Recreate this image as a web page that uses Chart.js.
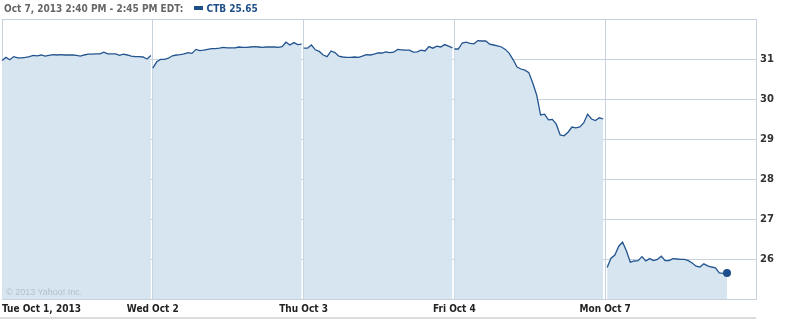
<!DOCTYPE html>
<html lang="en">
<head>
    <meta charset="UTF-8">
    <title>CTB intraday</title>
    <style>
        body {
            margin: 0;
            background: #fff;
            font-family: 'DejaVu Sans', Verdana, sans-serif;
        }

        #wrap {
            position: relative;
            width: 793px;
            height: 320px;
            overflow: hidden;
        }

        #header {
            position: absolute;
            left: 4px;
            top: 3px;
            font-family: 'DejaVu Sans Condensed', 'DejaVu Sans', sans-serif;
            font-size: 10px;
            font-weight: bold;
            color: #666;
            white-space: nowrap;
        }

        #header .sym {
            color: #1f4f8a;
            margin-left: 7px;
        }

        #header .swatch {
            display: inline-block;
            width: 9px;
            height: 4px;
            background: #1f4f8a;
            vertical-align: middle;
            margin-right: 4px;
            position: relative;
            top: -1px;
        }

        #copy {
            position: absolute;
            left: 6px;
            top: 287px;
            font-family: 'Liberation Sans Narrow', 'Liberation Sans', sans-serif;
            font-size: 9px;
            color: #b4c0cc;
        }

        #bottom-line {
            position: absolute;
            left: 0;
            top: 317px;
            width: 756px;
            height: 2px;
            background: #dcdcdc;
        }

        canvas {
            position: absolute;
            left: -2px;
            top: 0;
        }
    </style>
    <script src="https://cdn.jsdelivr.net/npm/chart.js"></script>
</head>
<body>
<div id="wrap">
    <canvas id="priceChart" width="795" height="320"></canvas>
    <div id="header">Oct 7, 2013 2:40 PM - 2:45 PM EDT: <span class="sym"><span class="swatch"></span>CTB 25.65</span></div>
    <div id="copy">&copy; 2013 Yahoo! Inc.</div>
    <div id="bottom-line"></div>
</div>

<script>
    // day labels under the grid lines
    const dayLabels = ['Tue Oct 1, 2013', 'Wed Oct 2', 'Thu Oct 3', 'Fri Oct 4', 'Mon Oct 7', ''];
    const yTicks = [26, 27, 28, 29, 30, 31];

    // prices sampled through each session (about every 10 minutes)
    const tuePrices = [30.96, 31.04, 30.98, 31.06, 31.03, 31.03, 31.04, 31.06, 31.09, 31.08,
        31.10, 31.07, 31.09, 31.11, 31.10, 31.11, 31.10, 31.10, 31.10, 31.09,
        31.07, 31.10, 31.12, 31.12, 31.13, 31.13, 31.17, 31.13, 31.13, 31.13,
        31.09, 31.12, 31.10, 31.07, 31.06, 31.06, 31.05, 31.00, 31.09];
    const wedPrices = [30.77, 30.93, 30.99, 30.99, 31.02, 31.08, 31.10, 31.11, 31.13, 31.16,
        31.14, 31.24, 31.21, 31.22, 31.24, 31.26, 31.26, 31.27, 31.29, 31.28,
        31.28, 31.28, 31.30, 31.29, 31.29, 31.30, 31.31, 31.30, 31.29, 31.30,
        31.30, 31.30, 31.29, 31.31, 31.42, 31.35, 31.41, 31.36, 31.37];
    const thuPrices = [31.27, 31.27, 31.35, 31.23, 31.19, 31.10, 31.06, 31.20, 31.16, 31.07,
        31.05, 31.04, 31.04, 31.05, 31.04, 31.07, 31.11, 31.10, 31.12, 31.15,
        31.15, 31.18, 31.16, 31.17, 31.24, 31.23, 31.22, 31.22, 31.17, 31.18,
        31.22, 31.20, 31.31, 31.27, 31.32, 31.30, 31.36, 31.32, 31.28];
    const friPrices = [31.25, 31.25, 31.40, 31.42, 31.39, 31.38, 31.46, 31.45, 31.45, 31.37,
        31.35, 31.33, 31.30, 31.24, 31.14, 30.98, 30.80, 30.75, 30.72, 30.66,
        30.40, 30.10, 29.60, 29.62, 29.48, 29.49, 29.37, 29.10, 29.08, 29.17,
        29.30, 29.28, 29.30, 29.40, 29.62, 29.50, 29.46, 29.53, 29.50];
    const monPrices = [25.79, 26.02, 26.10, 26.32, 26.42, 26.20, 25.92, 25.95, 25.96, 26.06,
        25.95, 26.01, 25.96, 25.99, 26.07, 25.96, 25.96, 26.01, 26.00, 25.99,
        25.99, 25.96, 25.90, 25.82, 25.80, 25.88, 25.83, 25.80, 25.78, 25.65,
        25.64, 25.65];

    const SESSION = 390; // minutes per trading day

    function buildPoints() {
        const points = [];
        const fullDays = [tuePrices, wedPrices, thuPrices, friPrices];
        fullDays.forEach((prices, d) => {
            prices.forEach((p, i) => {
                points.push({ x: d * SESSION + i * 385 / (prices.length - 1), y: p });
            });
            points.push({ x: d * SESSION + 388, y: null }); // break between sessions
        });
        monPrices.forEach((p, i) => {
            points.push({ x: 4 * SESSION + 5 + i * 10, y: p });
        });
        return points;
    }

    function createPriceChart() {
        const ctx = document.getElementById('priceChart').getContext('2d');
        const points = buildPoints();
        const lastIndex = points.length - 1;

        new Chart(ctx, {
            type: 'line',
            data: {
                datasets: [{
                    label: 'CTB',
                    data: points,
                    borderColor: '#23548f',
                    borderWidth: 1.3,
                    backgroundColor: '#d6e5f0',
                    fill: 'start',
                    tension: 0,
                    spanGaps: false,
                    pointRadius: (c) => c.dataIndex === lastIndex ? 4 : 0,
                    pointBackgroundColor: '#1f4f8a',
                    pointBorderWidth: 0
                }]
            },
            options: {
                responsive: false,
                animation: false,
                layout: {
                    padding: { left: 0, right: 2, top: 19, bottom: 0 }
                },
                plugins: {
                    legend: { display: false },
                    tooltip: { enabled: false }
                },
                scales: {
                    x: {
                        type: 'linear',
                        min: 0,
                        max: 5 * SESSION,
                        afterBuildTicks: (s) => {
                            s.ticks = dayLabels.map((_, i) => ({ value: i * SESSION }));
                        },
                        afterFit: (s) => { s.height = 21; },
                        grid: {
                            color: '#c6d3de',
                            lineWidth: 1,
                            drawTicks: false
                        },
                        border: { display: true, color: '#c6d3de' },
                        ticks: {
                            autoSkip: false,
                            maxRotation: 0,
                            align: 'inner',
                            padding: 4,
                            color: '#222',
                            font: { family: "'Liberation Sans Narrow', 'DejaVu Sans Condensed', sans-serif", size: 10, weight: 'bold' },
                            callback: (v, i) => dayLabels[i]
                        }
                    },
                    y: {
                        position: 'right',
                        min: 25,
                        max: 32,
                        z: 1,
                        afterBuildTicks: (s) => {
                            s.ticks = [25].concat(yTicks, [32]).map(v => ({ value: v }));
                        },
                        afterFit: (s) => { s.width = 35; },
                        grid: {
                            color: '#c6d3de',
                            lineWidth: 1,
                            drawTicks: false
                        },
                        border: { display: true, color: '#c6d3de' },
                        ticks: {
                            padding: 4,
                            color: '#333',
                            font: { family: "'DejaVu Sans', Verdana, sans-serif", size: 10, weight: 'bold' },
                            callback: (v) => yTicks.includes(v) ? String(v) : ''
                        }
                    }
                }
            }
        });
    }

    window.onload = function () {
        createPriceChart();
    };
</script>
</body>
</html>
